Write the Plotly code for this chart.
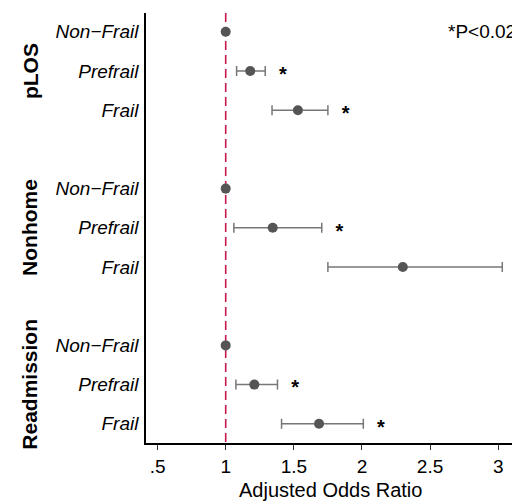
import plotly.graph_objects as go

groups = ["pLOS", "Nonhome", "Readmission"]
levels = ["Non\u2212Frail", "Prefrail", "Frail"]

or_plos = [1.0, 1.18, 1.53]
lo_plos = [None, 1.08, 1.34]
hi_plos = [None, 1.29, 1.75]

or_nonhome = [1.0, 1.345, 2.30]
lo_nonhome = [None, 1.06, 1.75]
hi_nonhome = [None, 1.705, 3.03]

or_readm = [1.0, 1.21, 1.685]
lo_readm = [None, 1.075, 1.41]
hi_readm = [None, 1.38, 2.01]

significant = [[False, True, True], [False, True, True], [False, True, True]]

x_ticks = [0.5, 1, 1.5, 2, 2.5, 3]
x_tick_labels = [".5", "1", "1.5", "2", "2.5", "3"]
note_text = "*P<0.02"
x_title = "Adjusted Odds Ratio"

FONT = "Liberation Sans, Arial, Helvetica, sans-serif"

ors = [or_plos, or_nonhome, or_readm]
los = [lo_plos, lo_nonhome, lo_readm]
his = [hi_plos, hi_nonhome, hi_readm]

ys, xs, ep, em, tvals, ttext = [], [], [], [], [], []
star_x, star_y = [], []
for gi in range(3):
    for li in range(3):
        y = gi * 4 + li
        x = ors[gi][li]
        ys.append(y)
        xs.append(x)
        lo, hi = los[gi][li], his[gi][li]
        ep.append(None if hi is None else hi - x)
        em.append(None if lo is None else x - lo)
        tvals.append(y)
        ttext.append("<i>" + levels[li] + "</i>")
        if significant[gi][li]:
            star_x.append(hi + 0.13)
            star_y.append(y + 0.12)  # asterisk glyph sits high; nudge to row centre

fig = go.Figure()
fig.add_shape(type="line", x0=1, x1=1, y0=-0.48, y1=10.6, xref="x", yref="y",
              line=dict(color="#C8174A", width=1.6, dash="9px,5px"), layer="below")
fig.add_trace(go.Scatter(
    x=xs, y=ys, mode="markers",
    marker=dict(size=10, color="#555555"),
    error_x=dict(type="data", symmetric=False, array=ep, arrayminus=em,
                 color="#777777", thickness=1.5, width=5),
    showlegend=False, hoverinfo="skip"))
fig.add_trace(go.Scatter(
    x=star_x, y=star_y, mode="text", text=["<b>*</b>"] * len(star_x),
    textfont=dict(size=20, color="black", family=FONT), textposition="middle center",
    cliponaxis=False, showlegend=False, hoverinfo="skip"))

for gi, g in enumerate(groups):
    fig.add_annotation(x=-0.315, xref="paper", y=gi * 4 + 1, yref="y", text="<b>" + g + "</b>",
                       textangle=-90, showarrow=False, xanchor="center", yanchor="middle",
                       font=dict(size=21, color="black", family=FONT))

fig.add_annotation(x=1.011, xref="paper", y=0, yref="y", text=note_text, showarrow=False,
                   xanchor="right", font=dict(size=19, color="black", family=FONT))
fig.add_annotation(x=0.5, xref="paper", y=0, yref="paper", yshift=-47, yanchor="middle",
                   text=x_title, showarrow=False, font=dict(size=20, color="black", family=FONT))

fig.update_layout(
    width=520, height=501,
    margin=dict(l=138, r=14, t=5, b=66),
    plot_bgcolor="white", paper_bgcolor="white",
    font=dict(family=FONT, color="black"),
    xaxis=dict(range=[0.415, 3.116], tickvals=x_ticks, ticktext=x_tick_labels,
               showline=True, linecolor="black", linewidth=1.5, ticks="outside",
               ticklen=5, tickcolor="#333", tickfont=dict(size=19), showgrid=False,
               zeroline=False, automargin=False),
    yaxis=dict(range=[10.49, -0.48], tickvals=tvals, ticktext=ttext,
               showline=True, linecolor="black", linewidth=1.5, ticks="",
               tickfont=dict(size=19), showgrid=False, zeroline=False, ticklabelstandoff=2,
               automargin=False),
)

fig.write_html("out.html")
